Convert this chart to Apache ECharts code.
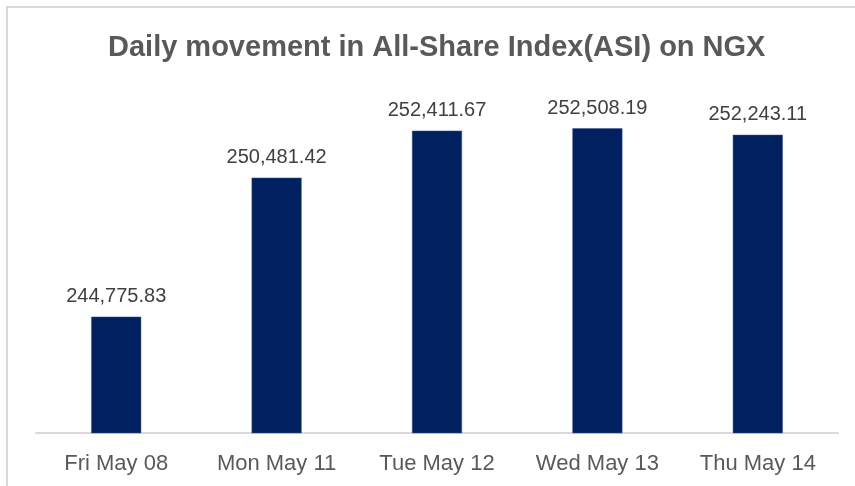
<!DOCTYPE html>
<html>
<head>
<meta charset="utf-8">
<script src="https://cdn.jsdelivr.net/npm/echarts@6/dist/echarts.min.js"></script>
<style>
  html, body { margin: 0; padding: 0; background: #fff; }
  #frame { position: absolute; left: 6px; top: 6px; width: 900px; height: 520px; border: 2px solid #d9d9d9; box-sizing: border-box; }
  #chart { position: absolute; left: 0; top: 0; width: 855px; height: 486px; }
</style>
</head>
<body>
<div id="frame"></div>
<div id="chart"></div>
<script>
// data
const days = ['Fri May 08', 'Mon May 11', 'Tue May 12', 'Wed May 13', 'Thu May 14'];
const asiValues = [244775.83, 250481.42, 252411.67, 252508.19, 252243.11];

const myChart = echarts.init(document.getElementById('chart'));

myChart.setOption({
  backgroundColor: 'transparent',
  animation: false,
  title: {
    text: 'Daily movement in All-Share Index(ASI) on NGX',
    left: 103,
    top: 28,
    textStyle: {
      fontFamily: 'Liberation Sans, Arial, sans-serif',
      fontSize: 29,
      fontWeight: 'bold',
      color: '#595959'
    }
  },
  grid: {
    left: 36,
    right: 17,
    top: 92,
    bottom: 53
  },
  xAxis: {
    type: 'category',
    data: days,
    axisTick: { show: false },
    axisLine: { lineStyle: { color: '#d9d9d9', width: 2 } },
    axisLabel: {
      margin: 20,
      fontFamily: 'Liberation Sans, Arial, sans-serif',
      fontSize: 22,
      color: '#595959'
    }
  },
  yAxis: {
    type: 'value',
    min: 240000,
    max: 254000,
    interval: 2000,
    show: false
  },
  series: [
    {
      type: 'bar',
      data: asiValues,
      barWidth: 50,
      itemStyle: {
        color: '#002060',
        borderColor: '#3a5590',
        borderWidth: 0.5
      },
      label: {
        show: true,
        position: 'top',
        distance: 10,
        fontFamily: 'Liberation Sans, Arial, sans-serif',
        fontSize: 20,
        color: '#404040',
        formatter: function (p) {
          return p.value.toLocaleString('en-US', { minimumFractionDigits: 2, maximumFractionDigits: 2 });
        }
      }
    }
  ]
});
</script>
</body>
</html>
